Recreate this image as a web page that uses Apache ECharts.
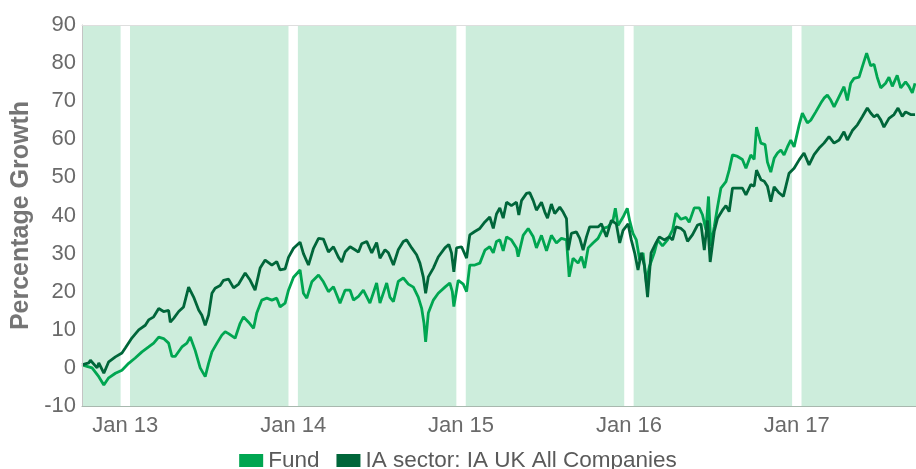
<!DOCTYPE html>
<html>
<head>
<meta charset="utf-8">
<script src="https://cdn.jsdelivr.net/npm/echarts@6/dist/echarts.min.js"></script>
<style>
  html, body { margin: 0; padding: 0; background: #fff; }
  #chart { width: 916px; height: 469px; }
</style>
</head>
<body>
<div id="chart"></div>
<script>
// time in decimal years, values in percentage growth
var fundT = [
  2012.742,2012.802,2012.842,2012.872,2012.901,2012.941,2012.980,2013.020,2013.059,2013.099,2013.139,2013.169,2013.199,2013.228,2013.258,2013.278,2013.297,2013.337,2013.367,2013.387,2013.416,2013.446,2013.476,2013.496,2013.516,2013.546,2013.575,2013.595,
  2013.615,2013.654,2013.684,2013.704,2013.734,2013.764,2013.783,2013.813,2013.843,2013.873,2013.902,2013.922,2013.952,2013.972,2014.002,2014.041,2014.061,2014.081,2014.111,2014.151,2014.180,2014.210,2014.240,2014.279,2014.309,2014.339,2014.359,2014.389,2014.418,
  2014.428,2014.457,2014.497,2014.517,2014.557,2014.576,2014.597,2014.626,2014.656,2014.686,2014.716,2014.745,2014.765,2014.779,2014.789,2014.805,2014.835,2014.864,2014.904,2014.933,2014.948,2014.957,2014.983,2015.013,2015.033,2015.052,2015.082,2015.112,2015.142,2015.171,2015.192,2015.211,2015.231,2015.251,
  2015.271,2015.300,2015.330,2015.340,2015.370,2015.400,2015.430,2015.449,2015.479,2015.509,2015.538,2015.568,2015.598,2015.628,2015.644,2015.667,2015.697,2015.717,2015.736,2015.757,2015.786,2015.816,2015.846,2015.876,2015.905,2015.919,2015.935,2015.965,2015.990,2016.004,2016.024,2016.044,2016.064,2016.084,2016.104,
  2016.121,2016.151,2016.171,2016.200,2016.230,2016.260,2016.280,2016.310,2016.340,2016.359,2016.389,2016.419,2016.438,2016.459,2016.474,2016.488,2016.508,2016.528,2016.548,2016.578,2016.597,2016.617,2016.647,2016.676,2016.697,2016.726,2016.746,2016.760,2016.786,2016.811,2016.825,2016.845,
  2016.865,2016.885,2016.905,2016.924,2016.944,2016.964,2016.984,2017.014,2017.033,2017.063,2017.083,2017.113,2017.143,2017.162,2017.182,2017.202,2017.222,2017.252,2017.281,2017.301,2017.321,2017.341,2017.371,2017.390,2017.416,2017.440,2017.460,2017.479,2017.500,2017.529,2017.549,2017.569,2017.598,2017.619,2017.648,2017.668,2017.688,2017.704
];
var fundValues = [
  0.8,0.0,-2.3,-4.5,-2.6,-1.4,-0.6,1.2,2.6,4.2,5.5,6.5,8.1,7.7,6.5,3.0,3.0,5.5,6.5,8.1,4.6,0.0,-2.3,1.2,4.2,6.5,8.6,9.5,
  9.0,7.8,11.7,13.4,12.0,10.4,14.4,17.8,18.3,17.8,18.3,16.0,17.0,20.4,23.8,25.7,19.6,18.3,22.6,24.4,22.6,20.0,21.3,17.0,20.4,20.4,17.8,18.8,20.4,
  20.0,17.0,22.3,17.0,22.3,18.6,17.4,22.7,23.6,22.0,21.2,18.6,15.7,11.8,6.8,14.4,17.8,19.6,21.2,22.3,20.0,16.1,23.0,22.0,20.0,27.0,27.0,27.5,30.9,31.8,30.2,33.2,33.6,30.7,
  34.4,33.6,31.5,29.2,34.8,36.6,34.4,31.5,34.8,30.7,34.8,32.8,34.0,33.6,23.9,28.8,27.5,29.2,26.2,31.5,32.8,34.0,36.6,37.0,38.7,41.9,37.4,39.6,41.9,38.7,35.3,33.6,28.3,30.2,22.3,
  26.5,30.2,33.6,32.0,33.6,36.2,40.6,39.0,39.5,38.2,42.0,42.0,40.2,36.2,45.0,32.0,37.0,42.3,47.2,48.9,51.9,55.9,55.5,54.7,52.4,55.9,54.7,63.2,59.0,58.6,54.0,51.4,
  55.0,56.4,57.2,55.9,58.0,59.8,58.0,63.8,66.9,64.3,65.0,67.2,69.5,70.8,71.6,70.3,68.5,71.2,73.8,70.2,74.7,76.0,76.3,79.0,82.6,79.3,79.7,76.3,73.5,74.7,76.3,73.9,76.8,73.5,75.1,73.9,72.2,74.7
];
var sectorT = [
  2012.742,2012.782,2012.792,2012.832,2012.842,2012.872,2012.901,2012.941,2012.980,2013.000,2013.040,2013.080,2013.119,2013.139,2013.169,2013.199,2013.228,2013.258,2013.268,2013.288,2013.318,2013.347,2013.377,2013.407,2013.437,2013.456,2013.476,2013.496,2013.516,2013.535,2013.565,2013.585,
  2013.615,2013.645,2013.675,2013.714,2013.744,2013.773,2013.803,2013.833,2013.873,2013.902,2013.922,2013.952,2013.972,2014.002,2014.041,2014.061,2014.091,2014.121,2014.151,2014.180,2014.210,2014.240,2014.270,2014.289,2014.309,2014.339,2014.368,2014.389,2014.408,
  2014.438,2014.468,2014.497,2014.517,2014.547,2014.567,2014.597,2014.626,2014.656,2014.676,2014.706,2014.735,2014.755,2014.775,2014.789,2014.805,2014.835,2014.864,2014.904,2014.927,2014.943,2014.957,2014.973,2015.003,2015.033,2015.052,2015.082,2015.112,2015.142,2015.171,2015.192,2015.211,2015.231,2015.251,
  2015.271,2015.300,2015.330,2015.344,2015.360,2015.390,2015.409,2015.430,2015.449,2015.479,2015.499,2015.515,2015.538,2015.558,2015.588,2015.608,2015.628,2015.638,2015.657,2015.687,2015.707,2015.727,2015.747,2015.766,2015.796,2015.816,2015.836,2015.866,2015.895,2015.925,2015.945,2015.965,2015.995,2016.014,2016.034,2016.054,2016.074,2016.093,
  2016.111,2016.132,2016.161,2016.181,2016.211,2016.240,2016.260,2016.280,2016.310,2016.330,2016.349,2016.379,2016.409,2016.429,2016.449,2016.468,2016.484,2016.508,2016.528,2016.557,2016.578,2016.597,2016.617,2016.647,2016.676,2016.697,2016.726,2016.746,2016.760,2016.786,2016.806,2016.825,2016.845,
  2016.865,2016.895,2016.920,2016.935,2016.954,2016.984,2017.014,2017.043,2017.073,2017.103,2017.133,2017.162,2017.192,2017.222,2017.252,2017.281,2017.301,2017.331,2017.361,2017.390,2017.420,2017.440,2017.460,2017.479,2017.500,2017.519,2017.549,2017.579,2017.603,2017.628,2017.648,2017.678,2017.704
];
var sectorValues = [
  0.8,1.3,2.0,0.0,1.3,-1.4,1.6,2.9,3.9,5.2,7.9,10.0,11.2,12.6,13.4,15.6,14.8,15.1,12.0,13.0,14.8,16.0,21.2,18.6,15.2,13.8,11.2,13.9,19.6,20.9,21.6,23.0,
  23.3,21.0,22.0,24.9,23.0,20.4,26.2,28.3,27.0,27.9,25.7,26.0,29.0,31.4,33.0,30.0,27.0,31.4,34.0,33.8,30.4,31.8,29.0,27.8,30.4,31.8,31.0,30.4,32.6,
  33.2,30.2,32.9,28.8,31.0,30.2,27.0,31.0,33.2,33.6,31.5,29.7,27.5,23.9,19.6,23.9,26.2,29.1,31.5,32.4,30.2,25.2,31.5,31.8,28.8,34.9,35.8,36.6,38.3,39.6,36.6,40.4,42.0,39.3,
  43.5,42.6,43.5,40.1,43.9,45.8,46.0,43.9,41.4,43.5,40.9,39.3,43.0,40.5,42.2,40.9,39.2,30.9,35.3,35.7,34.0,30.9,34.4,37.0,37.0,37.0,37.8,34.4,38.7,37.8,32.8,36.1,37.8,33.6,30.2,25.7,30.2,26.6,
  18.6,30.2,32.8,34.4,33.6,34.4,33.6,37.0,36.6,35.8,33.2,35.0,37.5,37.8,30.9,38.7,27.8,35.8,39.3,41.4,42.6,41.0,47.2,47.2,47.2,45.4,48.1,47.7,51.9,49.4,49.0,47.7,43.6,
  47.5,45.9,45.0,47.7,51.1,52.4,54.6,56.4,53.3,56.0,57.7,59.0,60.7,59.0,59.8,62.0,59.8,62.3,63.8,65.9,68.2,66.9,65.9,66.5,65.1,63.2,65.5,66.5,68.2,66.0,67.2,66.5,66.5
];
var yearTicks = [2013, 2014, 2015, 2016, 2017];
var seriesNames = ['Fund', 'IA sector: IA UK All Companies'];

var xMin = 2012.742, xMax = 2017.71;
var gapHalf = 0.028; // white gap around each new year

function pairs(t, v) {
  return t.map(function (x, i) { return [x, v[i]]; });
}

// light green year bands
var bands = [];
var starts = [xMin].concat(yearTicks.map(function (y) { return y + gapHalf; }));
var ends = yearTicks.map(function (y) { return y - gapHalf; }).concat([xMax]);
for (var i = 0; i < starts.length; i++) {
  bands.push([{ xAxis: starts[i] }, { xAxis: ends[i] }]);
}

var FONT = "'Liberation Sans', Arial, sans-serif";
var myChart = echarts.init(document.getElementById('chart'));

var option = {
  animation: false,
  textStyle: { fontFamily: FONT },
  grid: { left: 82, top: 25, right: -1, bottom: 63 },
  legend: {
    data: seriesNames,
    top: 444,
    left: 'center',
    icon: 'rect',
    itemWidth: 24,
    itemHeight: 13,
    itemGap: 17,
    textStyle: { fontSize: 22.5, color: '#5a5a5a', fontFamily: FONT }
  },
  xAxis: [{
    type: 'value',
    min: xMin,
    max: xMax,
    z: 5,
    axisLine: { show: true, onZero: false, lineStyle: { color: '#a8b8ae', width: 1 } },
    axisTick: { show: false },
    splitLine: { show: false },
    axisLabel: {
      customValues: yearTicks,
      fontSize: 22,
      color: '#6a6a6a',
      margin: 9,
      formatter: function (v) { return 'Jan ' + String(Math.round(v)).slice(2); }
    }
  }, {
    type: 'value',
    position: 'top',
    min: xMin,
    max: xMax,
    z: 5,
    axisLine: { show: true, onZero: false, lineStyle: { color: '#dedede', width: 1 } },
    axisTick: { show: false },
    axisLabel: { show: false },
    splitLine: { show: false }
  }],
  yAxis: {
    type: 'value',
    min: -10,
    max: 90,
    interval: 10,
    z: 5,
    name: 'Percentage Growth',
    nameLocation: 'middle',
    nameGap: 46,
    nameTextStyle: { fontSize: 25, fontWeight: 'bold', color: '#757575', fontFamily: FONT },
    axisLine: { show: true, lineStyle: { color: '#c4c4c4', width: 1 } },
    axisTick: { show: false },
    splitLine: { show: false },
    axisLabel: { fontSize: 22, color: '#6a6a6a', margin: 6 }
  },
  series: [{
    name: 'bands',
    type: 'line',
    data: [],
    z: 1,
    silent: true,
    markArea: {
      silent: true,
      itemStyle: { color: '#cdeddc' },
      data: bands
    }
  }, {
    name: seriesNames[0],
    type: 'line',
    z: 3,
    showSymbol: false,
    color: '#00a651',
    lineStyle: { width: 2.8, color: '#00a651' },
    data: pairs(fundT, fundValues)
  }, {
    name: seriesNames[1],
    type: 'line',
    z: 4,
    showSymbol: false,
    color: '#00663a',
    lineStyle: { width: 2.8, color: '#00663a' },
    data: pairs(sectorT, sectorValues)
  }]
};

myChart.setOption(option);
window.addEventListener('resize', function () {
  myChart.resize();
});
</script>
</body>
</html>
